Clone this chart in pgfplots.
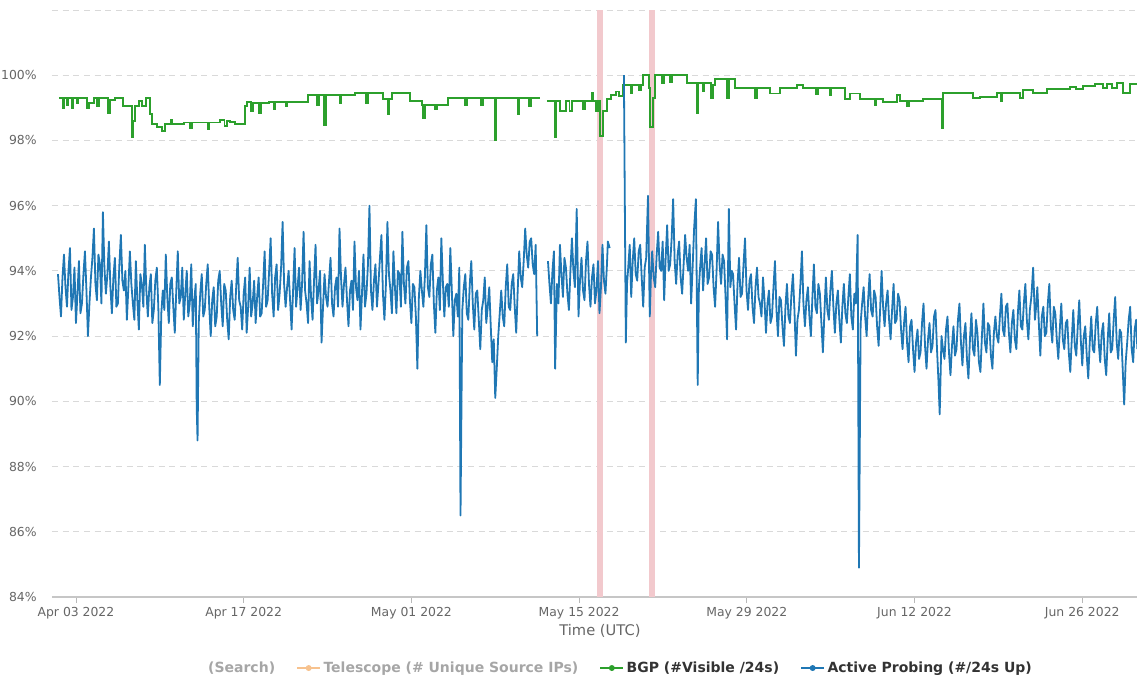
\documentclass[border=0pt]{standalone}
\usepackage{pgfplots}
\pgfplotsset{compat=1.18}
\usepackage{fontspec}
\setmainfont{DejaVu Sans}
\definecolor{bgpgreen}{HTML}{2CA02C}
\definecolor{apblue}{HTML}{1F77B4}
\definecolor{band}{HTML}{F2C9CD}
\definecolor{telorange}{HTML}{F7C28E}
\definecolor{tickgrey}{HTML}{666666}
\definecolor{inactive}{HTML}{A6A6A6}
\definecolor{active}{HTML}{333333}
\begin{document}
\begin{tikzpicture}
\begin{axis}[
  scale only axis,
  width=813.75pt, height=440.25pt,
  xmin=0, xmax=90.57, ymin=84, ymax=102,
  axis x line*=bottom, axis y line*=left,
  x axis line style={draw=gray!45, line width=0.8pt},
  y axis line style={draw=none},
  ytick={84,86,...,102},
  yticklabels={84\%,86\%,88\%,90\%,92\%,94\%,96\%,98\%,100\%,{}},
  ytick style={draw=none},
  xtick={2,16,30,44,58,72,86},
  xticklabels={Apr 03 2022,Apr 17 2022,May 01 2022,May 15 2022,May 29 2022,Jun 12 2022,Jun 26 2022},
  tick align=outside, major tick length=4.5pt,
  xtick style={draw=gray!55, line width=0.6pt},
  ymajorgrids, major grid style={dash pattern=on 4.5pt off 3.5pt, draw=gray!30, line width=0.7pt},
  ticklabel style={font=\fontsize{9.3}{11}\selectfont, text=tickgrey},
  yticklabel style={xshift=-3.5pt},
  xlabel={Time (UTC)},
  xlabel style={at={(axis description cs:0.505,-0.058)}, anchor=center, font=\fontsize{11}{13}\selectfont, text=tickgrey},
  unbounded coords=jump,
  clip=true,
  legend columns=4,
  legend style={at={(axis description cs:0.5235,-0.121)}, anchor=center, draw=none, fill=none,
    font=\bfseries\fontsize{10.5}{12}\selectfont,
    /tikz/every even column/.append style={column sep=14pt}},
]
% event bands
\addplot[draw=none, fill=band, forget plot] coordinates {(45.49,84) (45.99,84) (45.99,102) (45.49,102)} -- cycle;
\addplot[draw=none, fill=band, forget plot] coordinates {(49.83,84) (50.33,84) (50.33,102) (49.83,102)} -- cycle;

% legend
\addlegendimage{empty legend}
\addlegendentry{\textcolor{inactive}{(Search)}}
\addlegendimage{telorange, line width=1.2pt, mark=*, mark size=1.6pt}
\addlegendentry{\textcolor{inactive}{Telescope (\# Unique Source IPs)}}
\addlegendimage{bgpgreen, line width=1.2pt, mark=*, mark size=1.6pt}
\addlegendentry{\textcolor{active}{BGP (\#Visible /24s)}}
\addlegendimage{apblue, line width=1.2pt, mark=*, mark size=1.6pt}
\addlegendentry{\textcolor{active}{Active Probing (\#/24s Up)}}

% BGP
\addplot[const plot, bgpgreen, line width=1.45pt, forget plot] table {
x y
0.58 99.30
0.90 99.00
1.00 99.30
1.25 99.10
1.35 99.30
1.65 99.00
1.75 99.30
2.05 99.15
2.15 99.30
2.90 99.00
3.05 99.15
3.50 99.30
3.75 99.05
3.95 99.30
4.70 98.85
4.85 99.25
5.25 99.30
5.90 99.05
6.70 98.10
6.80 98.60
6.90 99.05
7.30 99.20
7.50 99.05
7.85 99.30
8.20 98.80
8.35 98.50
8.80 98.40
9.20 98.30
9.45 98.50
9.90 98.62
10.05 98.50
11.00 98.55
11.50 98.38
11.65 98.55
12.80 98.55
13.00 98.35
13.10 98.55
14.00 98.62
14.40 98.45
14.60 98.60
14.85 98.56
15.30 98.50
16.11 99.05
16.30 99.18
16.60 98.90
16.75 99.15
17.30 98.85
17.45 99.15
18.10 99.18
18.50 98.95
18.65 99.18
19.50 99.05
19.65 99.18
21.37 99.38
22.10 99.10
22.25 99.38
22.70 98.46
22.85 99.38
24.00 99.15
24.15 99.38
25.29 99.45
26.20 99.15
26.35 99.45
27.63 99.28
28.04 98.80
28.15 99.28
28.38 99.45
29.88 99.20
30.88 99.08
30.97 98.70
31.10 99.08
32.00 98.95
32.15 99.08
33.05 99.30
34.50 99.10
34.65 99.30
35.80 99.10
35.95 99.30
36.97 98.00
37.10 99.30
38.89 98.80
39.00 99.30
39.80 99.05
39.95 99.30
40.73 99.30
40.80 nan
41.31 99.20
41.98 98.10
42.10 99.20
42.40 98.90
42.90 99.20
43.20 98.90
43.40 99.20
44.35 98.95
44.50 99.20
45.05 99.46
45.20 99.20
45.40 98.90
45.55 99.20
45.74 98.15
46.00 98.90
46.32 99.28
46.70 99.40
47.10 99.50
47.30 99.35
47.66 99.70
48.30 99.45
48.45 99.70
49.00 99.55
49.15 99.70
49.33 100.00
49.83 99.60
49.91 98.40
50.16 99.30
50.33 100.00
50.90 99.75
51.10 100.00
51.60 99.80
51.75 100.00
53.00 99.75
53.84 98.83
53.95 99.75
54.30 99.50
54.45 99.75
55.00 99.30
55.17 99.70
55.34 99.88
56.34 99.30
56.50 99.88
57.01 99.60
58.68 99.30
58.84 99.60
59.93 99.44
60.76 99.60
62.18 99.70
62.68 99.60
63.80 99.42
63.95 99.60
64.90 99.40
65.05 99.60
66.19 99.28
66.60 99.44
67.44 99.28
68.69 99.08
68.80 99.28
69.36 99.18
70.53 99.40
70.78 99.20
71.40 99.05
71.50 99.20
72.70 99.28
74.12 99.28
74.29 98.37
74.37 99.46
76.88 99.30
77.46 99.33
78.88 99.46
79.20 99.20
79.30 99.46
80.80 99.30
81.05 99.56
81.88 99.45
83.05 99.59
85.00 99.65
85.50 99.59
86.06 99.66
87.06 99.74
87.73 99.60
88.10 99.74
88.50 99.60
88.90 99.75
89.40 99.45
89.98 99.74
90.57 99.74
};

% Active probing
\addplot[apblue, line width=1.35pt, line join=round, forget plot] table {
x y
0.500 93.9
0.625 93.2
0.750 92.6
0.875 93.8
1.000 94.5
1.125 93.5
1.250 92.9
1.375 94.0
1.500 94.7
1.625 92.8
1.750 93.2
1.875 94.1
2.000 92.4
2.125 93.3
2.250 94.3
2.375 92.7
2.500 93.0
2.625 93.9
2.750 94.6
2.875 93.4
3.000 92.0
3.125 93.0
3.250 93.8
3.375 94.4
3.500 95.3
3.625 93.6
3.750 93.1
3.875 94.5
4.000 94.2
4.125 93.0
4.250 95.8
4.375 94.1
4.500 93.3
4.625 93.9
4.750 94.9
4.875 93.5
5.000 92.7
5.125 93.8
5.250 94.4
5.375 92.9
5.500 93.0
5.625 94.2
5.750 95.1
5.875 93.7
6.000 93.4
6.125 94.0
6.250 92.5
6.375 93.5
6.500 94.6
6.625 93.6
6.750 93.0
6.875 92.5
7.000 94.3
7.125 93.1
7.250 92.2
7.375 93.9
7.500 93.6
7.625 92.9
7.750 94.8
7.875 93.4
8.000 92.6
8.125 93.5
8.250 93.9
8.375 92.4
8.500 92.8
8.625 93.7
8.750 94.1
8.875 92.9
9.000 90.5
9.125 92.7
9.250 93.4
9.375 92.8
9.500 94.5
9.625 93.2
9.750 92.4
9.875 93.6
10.000 93.8
10.125 92.9
10.250 92.1
10.375 93.4
10.500 94.6
10.625 93.0
10.750 93.2
10.875 94.1
11.000 92.5
11.125 93.3
11.250 94.0
11.375 92.6
11.500 93.0
11.625 94.2
11.750 92.3
11.875 93.1
12.000 93.6
12.080 89.8
12.150 88.8
12.250 92.4
12.375 93.3
12.500 93.9
12.625 92.6
12.750 92.8
12.875 93.6
13.000 94.2
13.125 92.9
13.250 92.0
13.375 93.1
13.500 93.5
13.625 92.3
13.750 92.6
13.875 93.7
14.000 94.0
14.125 93.0
14.250 92.3
14.375 93.6
14.500 93.4
14.625 92.5
14.750 91.9
14.875 93.2
15.000 93.7
15.125 92.8
15.250 92.5
15.375 93.5
15.500 94.4
15.625 93.1
15.750 92.9
15.875 92.2
16.000 93.3
16.125 93.8
16.250 92.1
16.375 92.9
16.500 94.1
16.625 92.6
16.750 93.0
16.875 93.7
17.000 92.4
17.125 93.2
17.250 93.8
17.375 92.6
17.500 92.7
17.625 93.6
17.750 94.6
17.875 92.9
18.000 93.1
18.125 94.0
18.250 95.0
18.375 93.3
18.500 92.6
18.625 93.8
18.750 94.2
18.875 92.8
19.000 93.3
19.125 94.1
19.250 95.5
19.375 93.6
19.500 92.9
19.625 93.5
19.750 94.0
19.875 93.1
20.000 92.2
20.125 93.4
20.250 94.7
20.375 92.9
20.500 93.5
20.625 94.1
20.750 92.8
20.875 93.6
21.000 95.2
21.125 93.4
21.250 93.0
21.375 92.4
21.500 94.3
21.625 93.2
21.750 92.5
21.875 93.7
22.000 94.8
22.125 93.0
22.250 93.4
22.375 94.0
22.500 91.8
22.625 92.9
22.750 93.9
22.875 93.2
23.000 92.9
23.125 93.7
23.250 94.4
23.375 93.0
23.500 92.6
23.625 93.5
23.750 93.8
23.875 92.9
24.000 95.3
24.125 93.8
24.250 92.9
24.375 93.6
24.500 94.1
24.625 93.1
24.750 92.3
24.875 93.4
25.000 93.7
25.125 92.8
25.250 94.9
25.375 93.5
25.500 93.1
25.625 94.0
25.750 92.2
25.875 93.3
26.000 94.5
26.125 92.9
26.250 93.3
26.375 94.2
26.500 96.0
26.625 93.4
26.750 92.8
26.875 93.7
27.000 94.2
27.125 92.9
27.250 93.6
27.375 94.4
27.500 95.1
27.625 93.3
27.750 92.5
27.875 93.6
28.000 95.5
28.125 93.9
28.250 93.4
28.375 92.7
28.500 94.6
28.625 93.5
28.750 92.7
28.875 94.0
29.000 93.9
29.125 92.9
29.250 95.2
29.375 93.6
29.500 93.0
29.625 94.1
29.750 94.3
29.875 93.1
30.000 92.4
30.125 93.6
30.250 93.5
30.375 92.6
30.500 91.0
30.625 93.2
30.750 94.0
30.875 93.4
31.000 92.9
31.125 93.8
31.250 95.4
31.375 93.5
31.500 93.2
31.625 94.2
31.750 94.5
31.875 93.0
32.000 92.1
32.125 93.4
32.250 93.8
32.375 92.8
32.500 95.0
32.625 93.7
32.750 92.6
32.875 93.5
33.000 93.6
33.125 92.9
33.250 94.7
33.375 93.4
33.500 92.0
33.625 93.1
33.750 93.3
33.875 92.6
34.000 94.1
34.100 86.5
34.250 92.8
34.375 93.5
34.500 93.9
34.625 92.7
34.750 92.5
34.875 93.6
35.000 94.3
35.125 93.0
35.250 92.2
35.375 93.3
35.500 93.4
35.625 92.5
35.750 91.6
35.875 92.8
36.000 93.1
36.125 93.8
36.250 92.4
36.375 92.9
36.500 93.5
36.625 92.3
36.750 91.2
36.875 91.9
37.000 90.1
37.125 91.0
37.250 92.0
37.375 92.7
37.500 93.4
37.625 92.6
37.750 92.3
37.875 93.5
38.000 94.2
38.125 92.9
38.250 92.8
38.375 93.6
38.500 93.9
38.625 92.9
38.750 92.1
38.875 93.4
39.000 94.6
39.125 93.8
39.250 93.5
39.375 94.3
39.500 95.3
39.625 94.5
39.750 94.1
39.875 94.9
40.000 95.0
40.125 94.2
40.250 93.9
40.375 94.8
40.500 92.0
40.600 nan
41.400 94.3
41.525 93.6
41.650 93.0
41.775 94.0
41.900 94.6
42.000 91.0
42.150 93.6
42.275 93.0
42.400 94.8
42.525 93.9
42.650 93.2
42.775 94.4
42.900 94.1
43.025 93.3
43.150 92.8
43.275 94.0
43.400 95.0
43.525 94.0
43.650 93.5
43.800 95.9
43.950 92.6
44.075 93.7
44.200 94.4
44.325 93.4
44.450 93.1
44.575 94.3
44.700 94.9
44.825 93.6
44.950 92.9
45.075 93.8
45.200 94.2
45.325 93.0
45.450 93.4
45.575 94.3
45.700 92.7
45.825 93.5
45.950 94.8
46.075 93.7
46.200 93.3
46.325 94.2
46.400 94.9
46.550 94.7
46.700 nan
47.740 100.0
47.900 91.8
48.000 93.6
48.100 94.1
48.225 94.8
48.350 93.2
48.475 94.3
48.600 95.0
48.725 93.9
48.850 93.7
48.975 94.6
49.100 94.8
49.225 93.8
49.350 92.9
49.475 94.1
49.600 94.4
49.750 96.3
49.900 92.6
50.000 93.9
50.100 94.6
50.225 93.8
50.350 93.5
50.475 94.5
50.600 95.2
50.725 94.1
50.850 94.0
50.975 94.9
51.100 93.1
51.225 94.4
51.350 95.4
51.475 94.0
51.600 94.2
51.725 95.0
51.850 96.2
51.975 94.3
52.100 93.6
52.225 94.5
52.350 94.9
52.475 93.8
52.600 93.3
52.725 94.2
52.850 95.1
52.975 94.4
53.100 94.0
53.225 94.8
53.350 93.0
53.475 94.1
53.600 95.3
53.750 96.2
53.900 90.5
54.000 93.5
54.100 94.1
54.225 94.7
54.350 93.4
54.475 94.2
54.600 95.0
54.725 93.6
54.850 93.8
54.975 94.6
55.100 94.5
55.225 93.5
55.350 92.9
55.475 94.0
55.600 95.5
55.725 94.2
55.850 93.6
55.975 94.5
56.100 94.3
56.225 93.2
56.350 91.9
56.500 95.9
56.625 93.5
56.750 94.0
56.850 93.9
56.975 93.0
57.100 92.2
57.225 93.6
57.350 94.4
57.475 93.2
57.600 93.3
57.725 94.2
57.850 95.0
57.975 93.4
58.100 92.8
58.225 93.7
58.350 93.9
58.475 92.9
58.600 92.4
58.725 93.5
58.850 94.1
58.975 93.2
59.100 93.0
59.225 92.6
59.350 93.8
59.475 93.1
59.600 92.1
59.725 93.0
59.850 93.4
59.975 92.4
60.100 92.6
60.225 93.5
60.350 94.3
60.475 92.8
60.600 92.0
60.725 93.2
60.850 93.1
60.975 92.3
61.100 91.7
61.225 92.9
61.350 93.6
61.475 92.6
61.600 92.4
61.725 93.3
61.850 93.9
61.975 92.8
62.100 91.4
62.225 92.5
62.350 92.8
62.475 93.6
62.600 94.6
62.725 93.0
62.850 92.3
62.975 93.1
63.100 93.5
63.225 92.6
63.350 92.0
63.475 93.2
63.600 94.2
63.725 92.9
63.850 92.7
63.975 93.6
64.100 93.3
64.225 92.4
64.350 91.5
64.475 92.7
64.600 93.8
64.725 92.8
64.850 92.5
64.975 93.4
65.100 94.0
65.225 92.9
65.350 92.1
65.475 93.0
65.600 93.4
65.725 92.5
65.850 91.8
65.975 92.9
66.100 93.6
66.225 92.7
66.350 92.4
66.475 93.2
66.600 93.9
66.725 92.6
66.850 92.2
66.975 93.3
67.100 93.0
67.250 95.1
67.360 84.9
67.500 92.4
67.625 93.0
67.750 93.5
67.875 92.6
68.000 92.0
68.125 93.1
68.250 93.9
68.375 92.8
68.500 92.6
68.625 93.4
68.750 93.2
68.875 92.3
69.000 91.7
69.125 92.8
69.250 94.0
69.375 92.9
69.500 92.3
69.625 93.0
69.750 93.4
69.875 92.5
70.000 91.9
70.125 92.8
70.250 93.6
70.375 92.4
70.500 92.5
70.625 93.3
70.750 93.1
70.875 92.2
71.000 91.6
71.125 92.4
71.250 92.9
71.375 91.8
71.500 91.2
71.625 92.3
71.750 92.5
71.875 91.6
72.000 90.9
72.125 91.8
72.250 92.2
72.375 91.3
72.500 91.5
72.625 92.4
72.750 93.0
72.875 91.7
73.000 91.0
73.125 91.9
73.250 92.4
73.375 91.5
73.500 91.7
73.625 92.6
73.750 92.8
73.875 91.6
74.000 90.6
74.100 89.6
74.250 92.0
74.375 91.6
74.500 91.3
74.625 92.2
74.750 92.6
74.875 91.5
75.000 90.8
75.125 91.7
75.250 92.3
75.375 91.4
75.500 91.6
75.625 92.5
75.750 93.0
75.875 91.8
76.000 91.1
76.125 92.0
76.250 92.4
76.375 91.3
76.500 90.7
76.625 91.9
76.750 92.7
76.875 91.6
77.000 91.4
77.125 92.5
77.250 92.1
77.375 91.2
77.500 90.9
77.625 92.0
77.750 93.0
77.875 91.8
78.000 91.5
78.125 92.4
78.250 92.3
78.375 91.4
78.500 91.0
78.625 92.1
78.750 92.6
78.875 92.0
79.000 91.8
79.125 92.6
79.250 93.3
79.375 92.2
79.500 92.0
79.625 92.9
79.750 93.0
79.875 92.1
80.000 91.5
80.125 92.4
80.250 92.8
80.375 91.9
80.500 91.6
80.625 92.7
80.750 93.4
80.875 92.3
81.000 92.2
81.125 93.0
81.250 93.6
81.375 92.5
81.500 91.9
81.625 92.8
81.750 93.2
81.900 94.1
82.050 92.5
82.150 92.9
82.250 93.5
82.375 92.4
82.500 91.4
82.625 92.6
82.750 92.9
82.875 92.0
83.000 92.1
83.125 93.0
83.250 93.6
83.375 92.3
83.500 91.8
83.625 92.9
83.750 92.7
83.875 91.9
84.000 91.3
84.125 92.2
84.250 93.0
84.375 91.9
84.500 91.6
84.625 92.4
84.750 92.5
84.875 91.5
85.000 90.9
85.125 91.9
85.250 92.8
85.375 91.7
85.500 91.4
85.625 92.3
85.750 93.1
85.875 91.9
86.000 91.1
86.125 92.0
86.250 92.3
86.375 91.4
86.500 90.7
86.625 91.8
86.750 92.6
86.875 91.6
87.000 91.5
87.125 92.4
87.250 92.9
87.375 91.8
87.500 91.2
87.625 92.1
87.750 92.4
87.875 91.3
88.000 90.8
88.125 91.9
88.250 92.7
88.375 91.5
88.500 91.6
88.625 92.5
88.750 93.2
88.875 91.8
89.000 91.3
89.125 92.2
89.250 92.1
89.375 91.0
89.500 89.9
89.625 91.2
89.750 91.8
89.875 92.5
90.000 92.9
90.125 91.6
90.250 91.2
90.375 92.2
90.500 92.5
90.600 91.6
};
\coordinate (LL) at (rel axis cs:0,0);
\coordinate (UR) at (rel axis cs:1,1);
\end{axis}
\pgfresetboundingbox
\path[use as bounding box] ([xshift=-39pt,yshift=-65.25pt]LL) rectangle ([yshift=7.5pt]UR);
\end{tikzpicture}
\end{document}
